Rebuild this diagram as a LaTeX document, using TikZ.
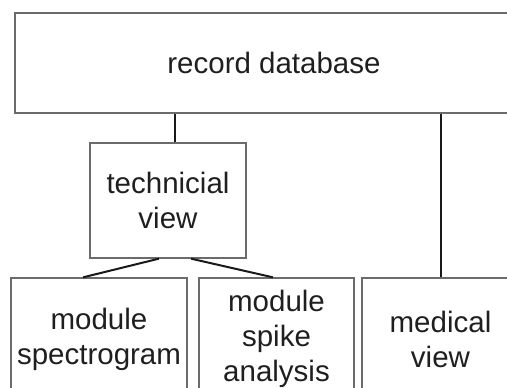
\documentclass[tikz,border=0pt]{standalone}
\usepackage{fontspec}
\setmainfont{Liberation Sans}

\begin{document}
\begin{tikzpicture}[
    x=1pt, y=-1pt,
    every node/.style={font=\fontsize{29.5}{35}\selectfont, text=black!88},
    box/.style={draw=black!58, line width=1.3pt, inner sep=0pt, align=center},
    link/.style={draw=black!90, line width=2pt},
]
    \useasboundingbox (0,0) rectangle (507,388);
    \clip (0,0) rectangle (507,388);

    % Database across the top, running off the right edge.
    \node[box, minimum width=518pt, minimum height=100pt] (db) at (274,63) {record database};

    % Technicial view below it, on the left.
    \node[box, minimum width=156pt, minimum height=115pt] (tech) at (168,200.5) {technicial\\view};
    \draw[link] ([xshift=7pt]tech.north) -- ([xshift=7pt]tech.north |- db.south);

    % Bottom row, running off the lower edge.
    \node[box, minimum width=176pt, minimum height=122pt] (spec) at (99,339) {module\\spectrogram};
    \node[box, minimum width=155pt, minimum height=122pt] (spike) at (276.5,339) {module\\spike\\analysis};
    \node[box, minimum width=157pt, minimum height=122pt] (med) at (440.5,339) {medical\\view};

    % Connectors.
    \draw[link] ([xshift=-9pt]tech.south) -- ([xshift=-16pt]spec.north);
    \draw[link] ([xshift=23pt]tech.south) -- ([xshift=-3.5pt]spike.north);
    \draw[link] (med.north) -- (med.north |- db.south);
\end{tikzpicture}
\end{document}
